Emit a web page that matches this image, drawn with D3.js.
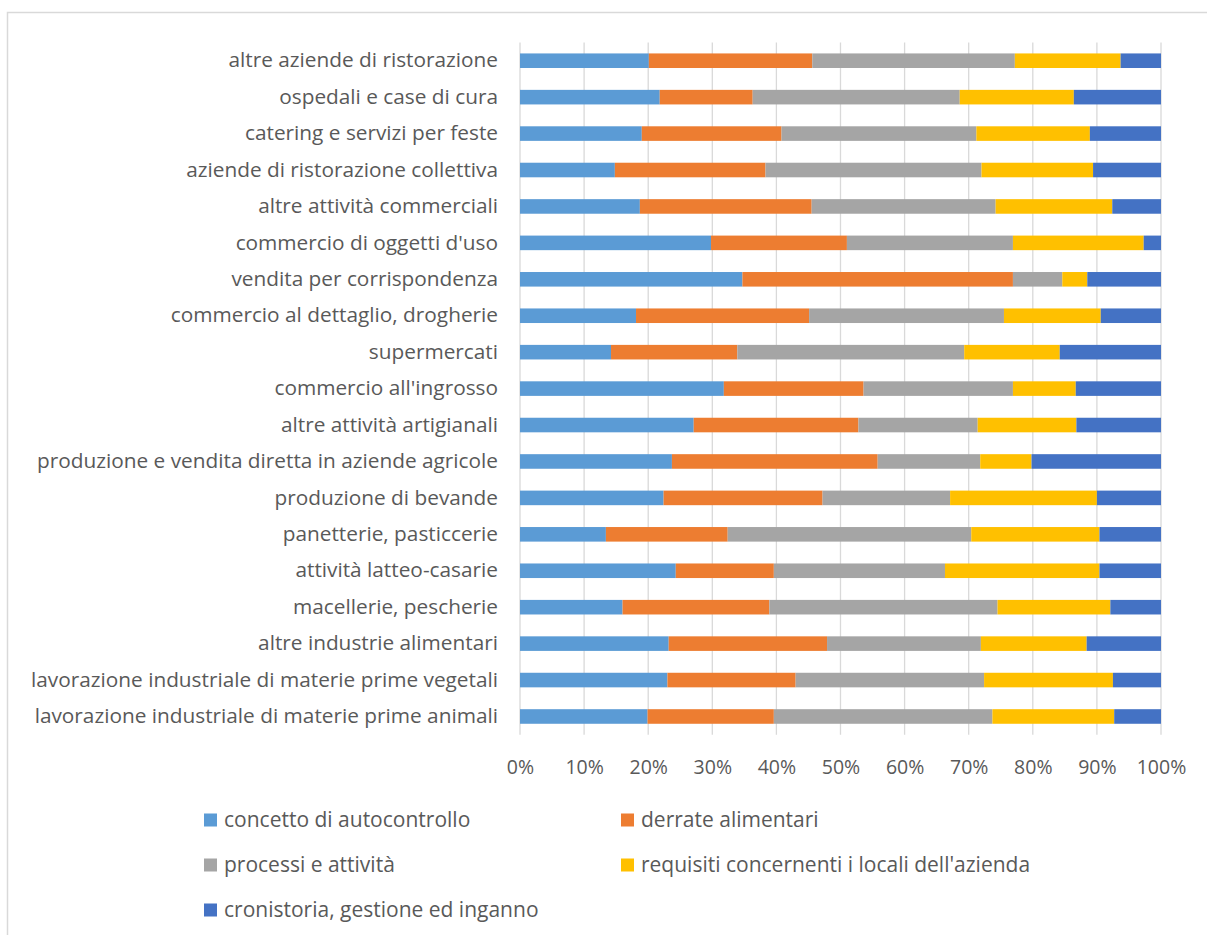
<!DOCTYPE html>
<html>
<head>
<meta charset="utf-8">
<script src="https://cdn.jsdelivr.net/npm/d3@7"></script>
<style>
  html, body { margin: 0; padding: 0; background: #fff; }
  svg { display: block; }
  text { font-family: "Open Sans", "Noto Sans", sans-serif; fill: #595959; }
</style>
</head>
<body>
<svg id="chart" width="1207" height="935"></svg>
<script>
// Categories, top to bottom
const categories = [
  "altre aziende di ristorazione",
  "ospedali e case di cura",
  "catering e servizi per feste",
  "aziende di ristorazione collettiva",
  "altre attività commerciali",
  "commercio di oggetti d'uso",
  "vendita per corrispondenza",
  "commercio al dettaglio, drogherie",
  "supermercati",
  "commercio all'ingrosso",
  "altre attività artigianali",
  "produzione e vendita diretta in aziende agricole",
  "produzione di bevande",
  "panetterie, pasticcerie",
  "attività latteo-casarie",
  "macellerie, pescherie",
  "altre industrie alimentari",
  "lavorazione industriale di materie prime vegetali",
  "lavorazione industriale di materie prime animali"
];

const seriesNames = [
  "concetto di autocontrollo",
  "derrate alimentari",
  "processi e attività",
  "requisiti concernenti i locali dell'azienda",
  "cronistoria, gestione ed inganno"
];

// Percent shares per category (same order as categories)
const autocontrollo = [20.1, 21.8, 19.0, 14.8, 18.7, 29.8, 34.7, 18.1, 14.2, 31.8, 27.1, 23.7, 22.4, 13.4, 24.3, 16.0, 23.2, 23.0, 19.9];
const derrate       = [25.5, 14.5, 21.8, 23.5, 26.8, 21.2, 42.2, 27.0, 19.7, 21.8, 25.7, 32.1, 24.8, 19.0, 15.3, 22.9, 24.7, 20.0, 19.7];
const processi      = [31.6, 32.3, 30.4, 33.7, 28.7, 25.9,  7.7, 30.4, 35.4, 23.3, 18.6, 16.0, 19.9, 38.0, 26.7, 35.6, 24.0, 29.4, 34.1];
const locali        = [16.5, 17.8, 17.7, 17.4, 18.2, 20.4,  3.9, 15.1, 14.9,  9.8, 15.4,  8.0, 22.9, 20.0, 24.1, 17.6, 16.5, 20.1, 19.0];
const cronistoria   = [ 6.3, 13.6, 11.1, 10.6,  7.6,  2.7, 11.5,  9.4, 15.8, 13.3, 13.2, 20.2, 10.0,  9.6,  9.6,  7.9, 11.6,  7.5,  7.3];

const xTicks = [0, 0.1, 0.2, 0.3, 0.4, 0.5, 0.6, 0.7, 0.8, 0.9, 1.0];
const colors = ["#5B9BD5", "#ED7D31", "#A5A5A5", "#FFC000", "#4472C4"];

const svg = d3.select("#chart");

// Frame
svg.append("rect")
  .attr("x", 7.5).attr("y", 12.5)
  .attr("width", 1215).attr("height", 935)
  .attr("fill", "none").attr("stroke", "#d9d9d9").attr("stroke-width", 1.5);

const plotLeft = 520, plotRight = 1161, plotTop = 42.5, plotBottom = 734.7;

const rows = categories.map((c, i) => {
  const vals = [autocontrollo[i], derrate[i], processi[i], locali[i], cronistoria[i]];
  const total = d3.sum(vals);
  const o = { cat: c };
  seriesNames.forEach((s, k) => o[s] = vals[k] / total);
  return o;
});

const stacked = d3.stack().keys(seriesNames)(rows);

const x = d3.scaleLinear().domain([0, 1]).range([plotLeft, plotRight]);
const y = d3.scaleBand().domain(categories).range([plotTop, plotBottom]).paddingInner(0.6).paddingOuter(0.3);

// Gridlines
svg.append("g")
  .selectAll("line")
  .data(xTicks)
  .join("line")
  .attr("x1", d => x(d)).attr("x2", d => x(d))
  .attr("y1", plotTop).attr("y2", plotBottom)
  .attr("stroke", "#d9d9d9").attr("stroke-width", 1.3);

// Bars
svg.append("g")
  .selectAll("g")
  .data(stacked)
  .join("g")
  .attr("fill", (d, i) => colors[i])
  .selectAll("rect")
  .data(d => d)
  .join("rect")
  .attr("x", d => x(d[0]))
  .attr("width", d => x(d[1]) - x(d[0]))
  .attr("y", d => y(d.data.cat))
  .attr("height", y.bandwidth());

// Y axis (category labels)
const yAxis = d3.axisLeft(y).tickSize(0).tickPadding(22);
const yg = svg.append("g").attr("transform", `translate(${plotLeft},0)`).call(yAxis);
yg.select(".domain").remove();
yg.selectAll("text").style("font-size", "20.8px").style("font-family", "'Open Sans', sans-serif").attr("fill", "#595959");

// X axis labels
const xAxis = d3.axisBottom(x).tickValues(xTicks).tickFormat(d3.format(".0%")).tickSize(0).tickPadding(25);
const xg = svg.append("g").attr("transform", `translate(0,${plotBottom})`).call(xAxis);
xg.select(".domain").remove();
xg.selectAll("text").style("font-size", "19.5px").style("font-family", "'Open Sans', sans-serif").attr("fill", "#595959");

// Legend
const legendPos = [
  [204, 820], [621, 820],
  [204, 865], [621, 865],
  [204, 910]
];
const lg = svg.append("g");
seriesNames.forEach((s, i) => {
  const [lx, ly] = legendPos[i];
  lg.append("rect").attr("x", lx).attr("y", ly - 6.5).attr("width", 13).attr("height", 13).attr("fill", colors[i]);
  lg.append("text").attr("x", lx + 20).attr("y", ly).attr("dy", "0.35em")
    .style("font-size", "21px").text(s);
});
</script>
</body>
</html>
